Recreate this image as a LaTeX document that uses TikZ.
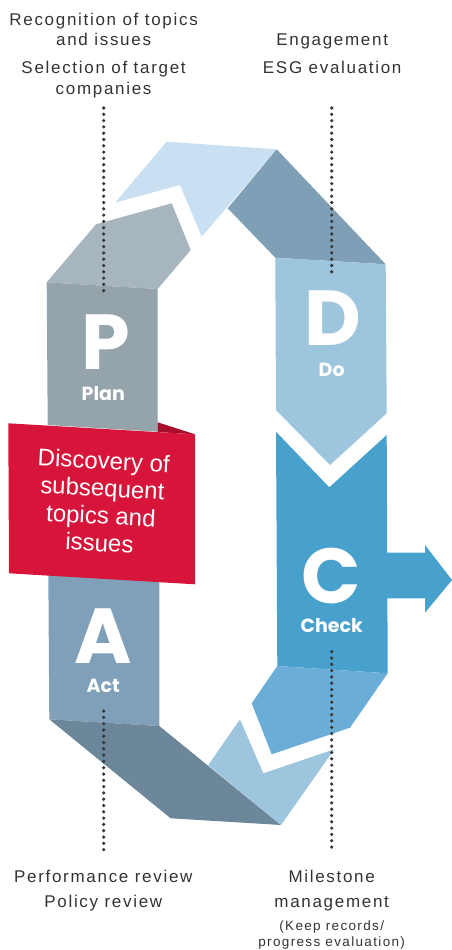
\documentclass[tikz,border=0pt]{standalone}
\usepackage{fontspec}
\usepackage{tikz}
\usetikzlibrary{positioning}
\setmainfont{Liberation Sans}
\newfontfamily\spacedfont{Liberation Sans}[LetterSpace=10]
\newfontfamily\pdcafont{Poppins}
\definecolor{headlight}{HTML}{C8E0F2}
\definecolor{slate}{HTML}{7F9FB7}
\definecolor{planfold}{HTML}{A7B5BE}
\definecolor{plangray}{HTML}{95A3AB}
\definecolor{doblue}{HTML}{9EC5DE}
\definecolor{checkblue}{HTML}{48A0CD}
\definecolor{checkfold}{HTML}{6AAED7}
\definecolor{actslate}{HTML}{7FA0B8}
\definecolor{actfold}{HTML}{6B8799}
\definecolor{ribbon}{HTML}{D7153A}
\definecolor{ribbondark}{HTML}{A80D2B}
\definecolor{labeltext}{HTML}{333333}
\definecolor{dotgray}{HTML}{383838}

\begin{document}
\begin{tikzpicture}[x=1pt,y=-1pt,
  lbl/.style={font=\spacedfont\fontsize{17}{21}\selectfont,text=labeltext,inner sep=0pt,anchor=base},
  small/.style={font=\spacedfont\fontsize{13.5}{16}\selectfont,text=labeltext,inner sep=0pt,anchor=base},
  letter/.style={font=\pdcafont\bfseries\fontsize{78}{78}\selectfont,text=white,inner sep=0pt},
  sub/.style={font=\pdcafont\bfseries\fontsize{19}{20}\selectfont,text=white,inner sep=0pt,anchor=base},
  dots/.style={dotgray,line width=3.6pt,line cap=round,dash pattern=on 0pt off 6.3pt}]
  \useasboundingbox (0,0) rectangle (452,950);
  %% upper fold
  \fill[headlight] (115,202.7)--(166.7,141.7)--(276.7,149.3)--(201.7,236.7)--(180,185)--cycle;
  \fill[slate] (276.7,149.3)--(385.7,264.3)--(275.3,257.7)--(227.7,208.3)--cycle;
  \fill[planfold] (46.7,282.3)--(96,224.3)--(171.7,203.3)--(190.7,250)--(157.7,289)--cycle;
  %% Plan and Do
  \fill[plangray] (46.7,282.3)--(157.7,289)--(157.7,431.7)--(47.7,425)--cycle;
  \fill[doblue] (275.3,257.7)--(385.7,264.3)--(386.7,413.3)--(330,465)--(276,410)--cycle;
  %% Check with arrow
  \fill[checkblue] (276,431.7)--(329.3,487.3)--(386.7,435)--(387.2,552.7)--(425,552.7)
    --(425,545)--(452,580)--(425,612.7)--(425,598.3)--(387.4,598.3)--(387.7,673.3)--(277.3,666)--cycle;
  %% lower fold
  \fill[checkfold] (277.3,666)--(387.7,673.3)--(350,727.7)--(271.7,754.3)--(251.7,703.3)--cycle;
  \fill[actslate] (48.3,570)--(159.3,575)--(159.3,726)--(49.3,719.3)--cycle;
  \fill[actfold] (49.3,719.3)--(159.3,726)--(281,825)--(170.7,818.3)--cycle;
  \fill[doblue] (208.3,765)--(240,719.3)--(263.3,773.3)--(334.3,749.3)--(281,825)--cycle;
  %% ribbon
  \fill[ribbondark] (157.7,422.3)--(195,434.3)--(157.7,432.1)--cycle;
  \fill[ribbon] (8.3,423.3)--(195,434.3)--(195,584.3)--(9,573.3)--cycle;
  \node[font=\fontsize{24}{27.5}\selectfont,text=white,align=center,inner sep=0pt,rotate=-3]
    (discovery) at (101.7,501.7) {Discovery of\\subsequent\\topics and\\issues};
  %% letters
  \node[letter] (P) at (105.5,342) {P};
  \node[letter] (D) at (332.7,318) {D};
  \node[letter] (C) at (331.7,575.5) {C};
  \node[letter] (A) at (103.5,635.7) {A};
  \node[sub] (plan) at (103.3,400.7) {Plan};
  \node[sub] (do) at (331.7,376) {Do};
  \node[sub] (check) at (331.7,632.7) {Check};
  \node[sub] (act) at (103.3,692) {Act};
  %% labels
  \node[lbl] (recog) at (103.6,26) {Recognition of topics};
  \node[lbl] (issues) at (103.6,46) {and issues};
  \node[lbl] (select) at (103.6,74) {Selection of target};
  \node[lbl] (compan) at (103.6,94.3) {companies};
  \node[lbl] (engage) at (332.2,46) {Engagement};
  \node[lbl] (esg) at (332.2,74) {ESG evaluation};
  \node[lbl] (perf) at (103.3,882.7) {Performance review};
  \node[lbl] (policy) at (103.3,907.7) {Policy review};
  \node[lbl] (milest) at (331.7,882.7) {Milestone};
  \node[lbl] (manage) at (331.7,907.7) {management};
  \node[small] (keep) at (331.7,930) {(Keep records/};
  \node[small] (progress) at (331.7,946.7) {progress evaluation)};
  %% dotted leaders
  \coordinate (plantop) at (103.7,108);
  \coordinate (planend) at (103.7,296);
  \coordinate (dotop) at (331.7,108);
  \coordinate (doend) at (331.7,273.3);
  \coordinate (actstart) at (103.7,711);
  \coordinate (actbot) at (103.7,853);
  \coordinate (checkstart) at (331.7,651.7);
  \coordinate (checkbot) at (331.7,853);
  \draw[dots] (plantop)--(planend);
  \draw[dots] (dotop)--(doend);
  \draw[dots] (actstart)--(actbot);
  \draw[dots] (checkstart)--(checkbot);
\end{tikzpicture}
\end{document}
